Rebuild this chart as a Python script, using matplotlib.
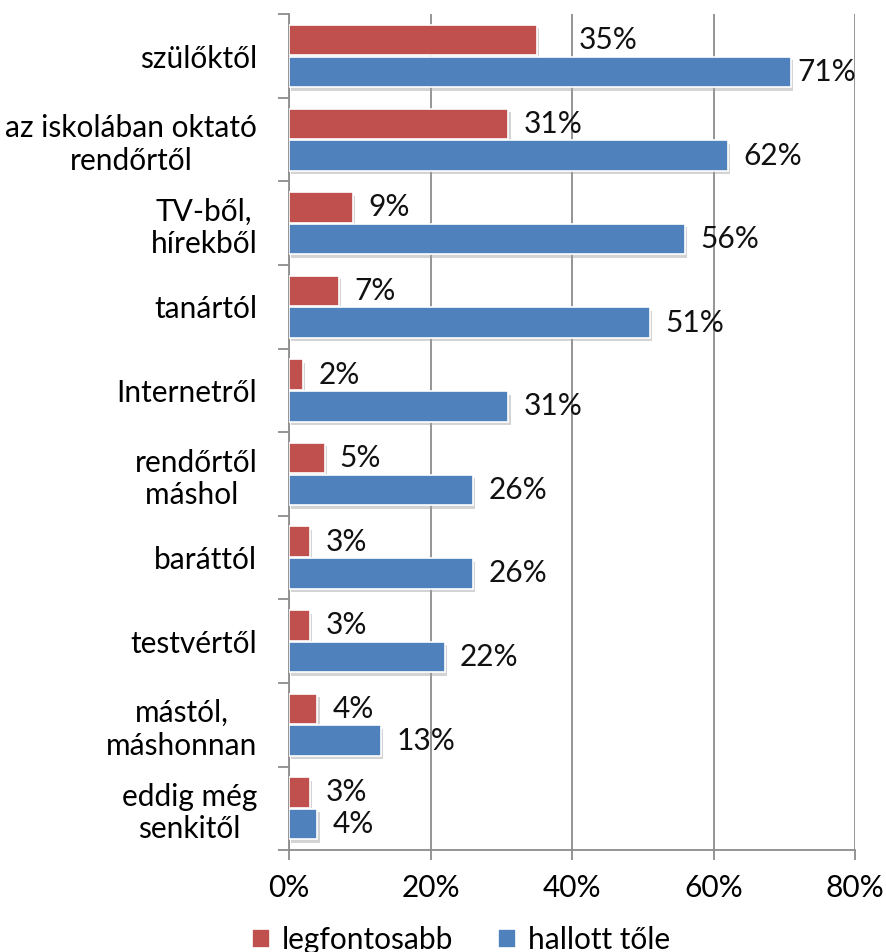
import numpy as np
import matplotlib
matplotlib.use("Agg")
import matplotlib.pyplot as plt
import matplotlib.patheffects as pe
from matplotlib.ticker import FixedLocator, FuncFormatter

categories = ["szülőktől", "az iskolában oktató\nrendőrtől", "TV-ből,\nhírekből", "tanártól",
              "Internetről", "rendőrtől\nmáshol ", "baráttól", "testvértől",
              "mástól,\nmáshonnan", "eddig még\nsenkitől"]
legfontosabb = [35, 31, 9, 7, 2, 5, 3, 3, 4, 3]
hallott = [71, 62, 56, 51, 31, 26, 26, 22, 13, 4]
series_names = ["legfontosabb", "hallott tőle"]
xticks = [0, 20, 40, 60, 80]

RED = "#C0504D"
BLUE = "#4F81BD"
GRID = "#8C8C8C"
FS = 21.5

plt.rcParams['font.family'] = ['Lato', 'DejaVu Sans']

fig = plt.figure(figsize=(8.87, 9.52), dpi=100)
ax = fig.add_axes([0.326, 0.107, 0.638, 0.878])

y = np.arange(len(categories))
h = 0.365
shadow = [pe.SimplePatchShadow(offset=(1.5, -2.5), shadow_rgbFace="#a0a0a0", alpha=0.45), pe.Normal()]
b1 = ax.barh(y - 0.19, legfontosabb, height=h, color=RED, edgecolor="white", linewidth=1.2,
             label=series_names[0], zorder=3)
b2 = ax.barh(y + 0.19, hallott, height=h, color=BLUE, edgecolor="white", linewidth=1.2,
             label=series_names[1], zorder=3)
for bars in (b1, b2):
    for p in bars:
        p.set_path_effects(shadow)

for i, (yy, v) in enumerate(zip(y - 0.19, legfontosabb)):
    off = 30 if i == 0 else 11
    ax.annotate(f"{v}%", (v, yy), xytext=(off, 0), textcoords="offset points",
                va="center", ha="left", fontsize=FS, color="#111111")
for i, (yy, v) in enumerate(zip(y + 0.19, hallott)):
    off = 4 if i == 0 else 11
    ax.annotate(f"{v}%", (v, yy), xytext=(off, 0), textcoords="offset points",
                va="center", ha="left", fontsize=FS, color="#111111")

ax.set_xlim(0, 80)
ax.set_ylim(len(categories) - 0.5, -0.5)
ax.xaxis.set_major_locator(FixedLocator(xticks))
ax.xaxis.set_major_formatter(FuncFormatter(lambda v, p: f"{int(v)}%"))
ax.grid(axis="x", color=GRID, linewidth=1.3, zorder=0)
ax.set_axisbelow(True)

ax.set_yticks(y)
ax.set_yticklabels(categories, fontsize=FS, ha="right", multialignment="center")
ax.tick_params(axis="y", length=0, pad=23)
ax.set_yticks(np.arange(-0.5, len(categories) + 0.5, 1), minor=True)
ax.tick_params(axis="y", which="minor", length=8, color=GRID, width=1.3)
ax.tick_params(axis="x", labelsize=FS, length=7, color=GRID, width=1.3, pad=10)

for s in ("top", "right"):
    ax.spines[s].set_visible(False)
for s in ("left", "bottom"):
    ax.spines[s].set_color(GRID)
    ax.spines[s].set_linewidth(1.3)

leg = fig.legend(handles=[b1, b2], labels=series_names, loc="lower center",
                 bbox_to_anchor=(0.52, -0.03), ncol=2, frameon=False, fontsize=FS,
                 handlelength=0.6, handleheight=0.6, handletextpad=0.4, columnspacing=1.5)
for hnd in leg.legend_handles:
    hnd.set_path_effects([])

fig.savefig("out.png", dpi=100)
